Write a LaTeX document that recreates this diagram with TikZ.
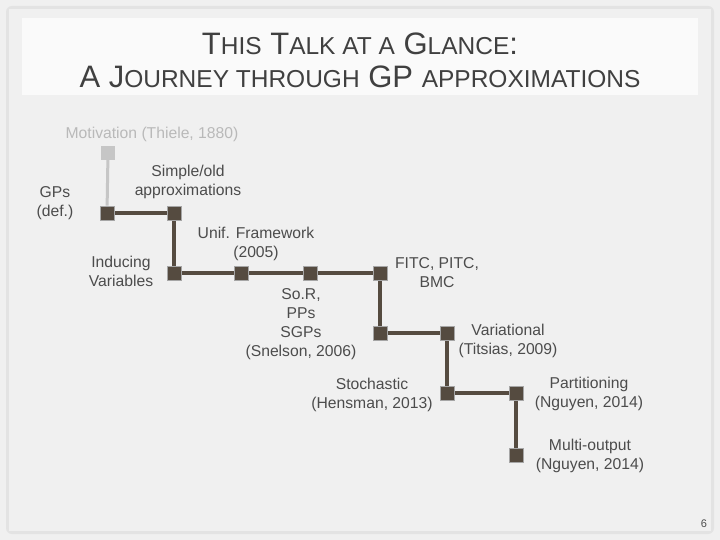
\documentclass[tikz,border=0pt]{standalone}
\usepackage{fontspec}
\setmainfont{Liberation Sans}
\begin{document}
\begin{tikzpicture}[x=1pt,y=-1pt,
  sq/.style={draw=gray!70,fill=lineC,minimum size=14pt,inner sep=0pt,line width=0.8pt},
  lsq/.style={fill=gray!45,minimum size=14pt,inner sep=0pt},
  conn/.style={draw=lineC,line width=4pt},
  lbl/.style={align=center,text=black!70,font=\fontsize{15.7}{19}\selectfont},
]
\definecolor{lineC}{HTML}{554B40}
\useasboundingbox (0,0) rectangle (720,540);
\fill[gray!12] (0,0) rectangle (720,540);
\fill[gray!22,rounded corners=6pt] (6,6) rectangle (714,534);
\fill[gray!12] (9,9) rectangle (711,531);
\fill[white!60!gray!10] (22,18) rectangle (698,95);
\node[text=black!75,align=center,font=\fontsize{31}{33}\selectfont] (title) at (360,60)
 {T{\fontsize{24.5}{33}\selectfont HIS} T{\fontsize{24.5}{33}\selectfont ALK AT A} G{\fontsize{24.5}{33}\selectfont LANCE}:\\
  A J{\fontsize{24.5}{33}\selectfont OURNEY THROUGH} GP {\fontsize{24.5}{33}\selectfont APPROXIMATIONS}};
% squares
\node[lsq] (mot) at (108,153) {};
\node[sq] (gp) at (107,213) {};
\node[sq] (so) at (174,213) {};
\node[sq] (iv) at (174,273) {};
\node[sq] (uf) at (241,273) {};
\node[sq] (sor) at (310,273) {};
\node[sq] (fitc) at (380,273) {};
\node[sq] (mid) at (380,333) {};
\node[sq] (var) at (447,333) {};
\node[sq] (sto) at (447,393) {};
\node[sq] (par) at (516,393) {};
\node[sq] (mul) at (516,455) {};
% connectors
\draw[draw=gray!45,line width=3pt] (mot) -- (gp);
\draw[conn] (gp) -- (so) -- (iv) -- (uf) -- (sor) -- (fitc) -- (mid) -- (var) -- (sto) -- (par) -- (mul);
\foreach \n in {gp,so,iv,uf,sor,fitc,mid,var,sto,par,mul} \node[sq] at (\n) {};
% labels
\node[lbl,text=gray!55] (lmot) at (152,134) {Motivation (Thiele, 1880)};
\node[lbl] (lgp) at (55,203) {GPs\\(def.)};
\node[lbl] (lso) at (188,182) {Simple/old\\approximations};
\node[lbl] (liv) at (121,271) {Inducing\\Variables};
\node[lbl] (luf) at (256,244) {Unif. Framework\\(2005)};
\node[lbl] (lsor) at (301,324) {So.R,\\PPs\\SGPs\\(Snelson, 2006)};
\node[lbl] (lfitc) at (437,273) {FITC, PITC,\\BMC};
\node[lbl] (lvar) at (508,341) {Variational\\(Titsias, 2009)};
\node[lbl] (lsto) at (372,395) {Stochastic\\(Hensman, 2013)};
\node[lbl] (lpar) at (589,394) {Partitioning\\(Nguyen, 2014)};
\node[lbl] (lmul) at (590,456) {Multi-output\\(Nguyen, 2014)};
\node[text=black!70,font=\fontsize{11}{13}\selectfont] (pg) at (704,524) {6};
\end{tikzpicture}
\end{document}
